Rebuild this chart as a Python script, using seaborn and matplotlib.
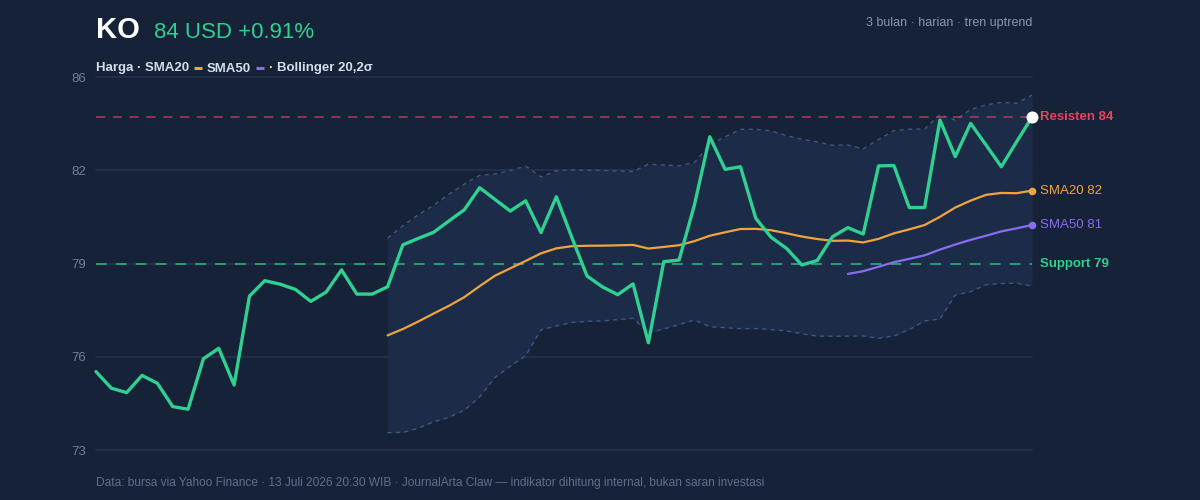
import numpy as np
import pandas as pd
import matplotlib
matplotlib.use("Agg")
import matplotlib.pyplot as plt
import seaborn as sns

# ---------------- data ----------------
ticker = "KO"
price = [75.49, 74.92, 74.77, 75.36, 75.09, 74.29, 74.20, 75.93, 76.29, 75.03,
         78.08, 78.61, 78.49, 78.31, 77.90, 78.22, 78.98, 78.15, 78.15, 78.40,
         79.84, 80.06, 80.27, 80.66, 81.04, 81.80, 81.40, 81.00, 81.35, 80.26,
         81.49, 80.11, 78.77, 78.40, 78.13, 78.50, 76.48, 79.26, 79.32, 81.21,
         83.55, 82.43, 82.52, 80.75, 80.10, 79.72, 79.15, 79.30, 80.12, 80.43,
         80.21, 82.55, 82.56, 81.12, 81.12, 84.12, 82.87, 84.01, 83.27, 82.52,
         83.38, 84.22]
support = 79.18
resistance = 84.23
change_pct = "+0.91%"
y_ticks = [72.8, 76.0, 79.2, 82.4, 85.6]
title_right = "3 bulan · harian · tren uptrend"
footer = ("Data: bursa via Yahoo Finance · 13 Juli 2026 20:30 WIB · JournalArta Claw — "
          "indikator dihitung internal, bukan saran investasi")

# ---------------- derived indicators ----------------
df = pd.DataFrame({"idx": np.arange(len(price)), "price": price})
df["sma20"] = df["price"].rolling(20).mean()
df["sma50"] = df["price"].rolling(50).mean()
sd20 = df["price"].rolling(20).std(ddof=0)
df["bb_up"] = df["sma20"] + 2 * sd20
df["bb_lo"] = df["sma20"] - 2 * sd20

# ---------------- style ----------------
BG = "#152238"
FILL = "#1c2b48"
GRID = "#222f4a"
BAND = "#3f5683"
TICK = "#6f7f9c"
GREEN = "#2fd090"
ORANGE = "#f0a53c"
PURPLE = "#8a6cf0"
RED = "#e8435f"
WHITE = "#ffffff"
LIGHT = "#d5dceb"
MUTED = "#8796b2"
FOOT = "#5f6f8c"

sns.set_theme(style="dark")
plt.rcParams["font.family"] = ["Liberation Sans", "DejaVu Sans"]

W, H = 1200, 500
fig = plt.figure(figsize=(12, 5), dpi=100, facecolor=BG)
L, R, T, B = 96, 1032, 77, 450
ax = fig.add_axes([L / W, 1 - B / H, (R - L) / W, (B - T) / H])
ax.set_facecolor(BG)
for s in ax.spines.values():
    s.set_visible(False)

n = len(price)
ax.set_xlim(0, n - 1)
ax.set_ylim(y_ticks[0], y_ticks[-1])
ax.set_yticks(y_ticks)
ax.set_yticklabels([f"{v:.0f}" for v in y_ticks])
ax.set_xticks([])
ax.tick_params(axis="y", colors=TICK, labelsize=9.5, length=0, pad=7)
ax.grid(False)
for v in y_ticks:
    ax.axhline(v, color=GRID, lw=1.5, zorder=0)

# Bollinger band
bb = df.dropna(subset=["bb_up"])
ax.fill_between(bb["idx"], bb["bb_lo"], bb["bb_up"], color=FILL, lw=0, zorder=1)
ax.plot(bb["idx"], bb["bb_up"], color=BAND, lw=1.0, dashes=(3, 3), zorder=2)
ax.plot(bb["idx"], bb["bb_lo"], color=BAND, lw=1.0, dashes=(3, 3), zorder=2)

# support / resistance
ax.axhline(resistance, color=RED, lw=1.1, alpha=0.75, dashes=(6, 5), zorder=2)
ax.axhline(support, color=GREEN, lw=1.3, alpha=0.75, dashes=(6, 5), zorder=2)

# lines
sns.lineplot(data=df, x="idx", y="sma20", color=ORANGE, lw=1.6, ax=ax, zorder=3)
sns.lineplot(data=df, x="idx", y="sma50", color=PURPLE, lw=1.6, ax=ax, zorder=3)
sns.lineplot(data=df, x="idx", y="price", color=GREEN, lw=2.4, ax=ax, zorder=4)
for line in ax.lines:
    line.set_clip_on(False)
ax.set_xlabel("")
ax.set_ylabel("")

last = n - 1
ax.scatter([last], [df["sma20"].iloc[-1]], s=30, color=ORANGE, zorder=5, clip_on=False, lw=0)
ax.scatter([last], [df["sma50"].iloc[-1]], s=30, color=PURPLE, zorder=5, clip_on=False, lw=0)
ax.scatter([last], [price[-1]], s=75, color=WHITE, zorder=6, clip_on=False, lw=0)

# right-side labels
def rlabel(val, text, color, weight="normal"):
    ax.annotate(text, xy=(last, val), xytext=(8, 0), textcoords="offset pixels",
                va="center", ha="left", color=color, fontsize=9.5,
                fontweight=weight, annotation_clip=False)

rlabel(resistance, f"Resisten {resistance:.0f}", RED, "bold")
rlabel(df["sma20"].iloc[-1], f"SMA20 {df['sma20'].iloc[-1]:.0f}", ORANGE)
rlabel(df["sma50"].iloc[-1], f"SMA50 {df['sma50'].iloc[-1]:.0f}", PURPLE)
rlabel(support, f"Support {support:.0f}", GREEN, "bold")

# header
def fy(px):
    return 1 - px / H

fig.text(96 / W, fy(38), ticker, color=WHITE, fontsize=21, fontweight="bold", va="baseline")
fig.text(154 / W, fy(38), f"{price[-1]:.0f} USD {change_pct}", color=GREEN, fontsize=16, va="baseline")
fig.text(R / W, fy(26), title_right, color=MUTED, fontsize=9.0, ha="right", va="baseline")

# legend line built piece by piece
fig.canvas.draw()
renderer = fig.canvas.get_renderer()
x = 96.0
base = fy(71.5)
def piece(txt, color):
    global x
    t = fig.text(x / W, base, txt, color=color, fontsize=9.5, fontweight="bold", va="baseline")
    bbox = t.get_window_extent(renderer)
    x += bbox.width
def dash(color):
    global x
    x += 5
    fig.add_artist(plt.Line2D([x / W, (x + 8) / W], [fy(67.5), fy(67.5)], color=color, lw=2.2,
                              solid_capstyle="butt", transform=fig.transFigure))
    x += 13

piece("Harga · SMA20", LIGHT)
dash(ORANGE)
piece("SMA50", LIGHT)
dash(PURPLE)
piece("· Bollinger 20,2σ", LIGHT)

fig.text(96 / W, fy(486), footer, color=FOOT, fontsize=8.6, va="baseline")

fig.savefig("out.png", dpi=100, facecolor=BG)
